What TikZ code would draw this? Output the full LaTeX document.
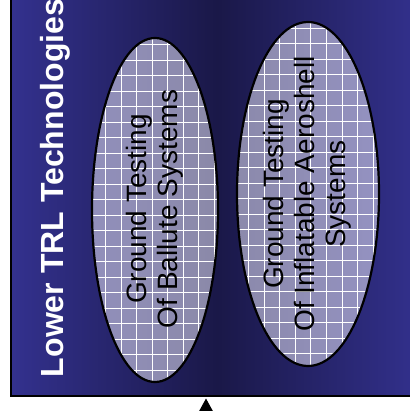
\documentclass[tikz,border=0pt]{standalone}
\usepackage{fontspec}
\setmainfont{Liberation Sans}
\usetikzlibrary{arrows.meta}
\definecolor{bgside}{RGB}{51,49,142}
\definecolor{bgmid}{RGB}{26,24,72}
\definecolor{veil}{RGB}{232,230,248}
\pgfdeclarehorizontalshading{bgshade}{100bp}{color(0bp)=(bgside); color(25bp)=(bgside); color(50bp)=(bgmid); color(75bp)=(bgside); color(100bp)=(bgside)}
\tikzset{
  panel/.style={shading=bgshade, draw=black, line width=2pt},
  balloonfill/.style={fill=veil, fill opacity=0.55},
  balloonline/.style={draw=black, line width=2.2pt},
  gridline/.style={draw=white, line width=0.9pt},
  titletext/.style={rotate=90, anchor=base, inner sep=0pt, text=white, font=\bfseries\fontsize{32}{38}\selectfont},
  balloontext/.style={rotate=90, align=center, inner sep=0pt, text=black, font=\fontsize{28}{31}\selectfont},
  uparrow/.style={-{Triangle[length=13pt,width=14pt]}, line width=1pt, draw=black}
}
\begin{document}
\begin{tikzpicture}[x=1pt, y=-1pt]
\useasboundingbox (0,0) rectangle (409,411);
% panel
\path[panel] (11,-20) rectangle (423,396);
% left balloon
\path[balloonfill] (155,210) ellipse [x radius=63pt, y radius=172pt];
\begin{scope}
  \clip (155,210) ellipse [x radius=63pt, y radius=172pt];
  \foreach \gx in {90,105.5,...,225} \draw[gridline] (\gx,30) -- (\gx,390);
  \foreach \gy in {29,44.5,...,395} \draw[gridline] (85,\gy) -- (225,\gy);
\end{scope}
\path[balloonline] (155,210) ellipse [x radius=63pt, y radius=172pt];
% right balloon
\path[balloonfill] (308,194) ellipse [x radius=71pt, y radius=172pt];
\begin{scope}
  \clip (308,194) ellipse [x radius=71pt, y radius=172pt];
  \foreach \gx in {232.8,248.4,...,390} \draw[gridline] (\gx,15) -- (\gx,375);
  \foreach \gy in {12.5,28,...,380} \draw[gridline] (230,\gy) -- (385,\gy);
\end{scope}
\path[balloonline] (308,194) ellipse [x radius=71pt, y radius=172pt];
% texts
\node[titletext] (title) at (63,188) {Lower TRL Technologies};
\node[balloontext] (ballute) at (154.3,209) {Ground Testing\\Of Ballute Systems};
\node[balloontext] (aeroshell) at (307,194) {Ground Testing\\Of Inflatable Aeroshell\\Systems};
% arrow into panel
\coordinate (afoot) at (206,440);
\coordinate (atip) at (206,398.5);
\draw[uparrow] (afoot) -- (atip);
\end{tikzpicture}
\end{document}
